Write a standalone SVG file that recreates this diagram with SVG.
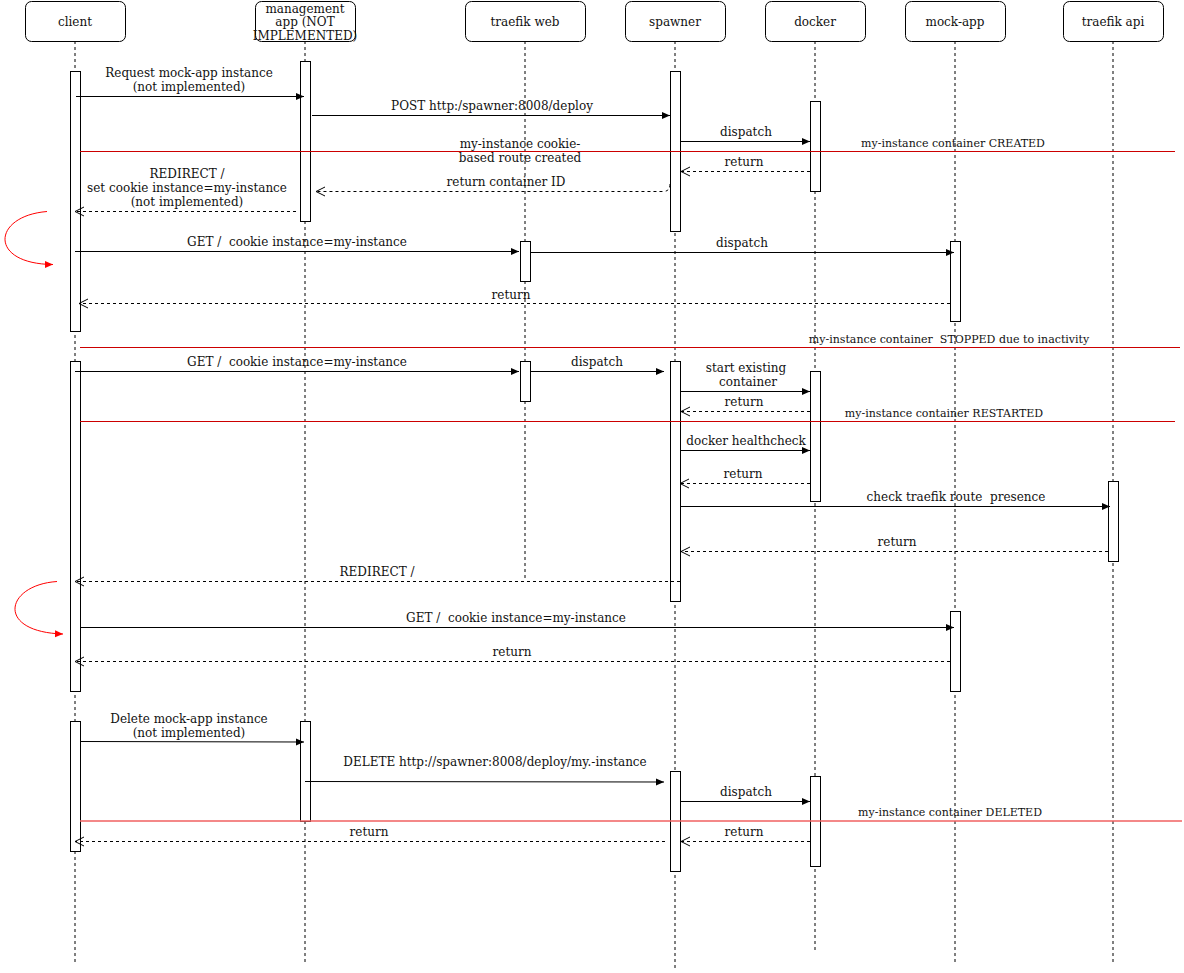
<svg xmlns="http://www.w3.org/2000/svg" width="1184" height="973" viewBox="0 0 1184 973">
<style>
text{font-family:"DejaVu Serif","Liberation Serif",serif;font-size:12px;fill:#111;text-anchor:middle;white-space:pre}
.sm{font-size:11px}
.hdr rect{fill:#fff;stroke:#000;stroke-width:1}
.life{stroke:#000;stroke-width:1;stroke-dasharray:3,3;fill:none}
.act{fill:#fff;stroke:#000;stroke-width:1}
.msg{stroke:#000;stroke-width:1;fill:none;marker-end:url(#block)}
.ret{stroke:#000;stroke-width:1;fill:none;stroke-dasharray:3,3;marker-end:url(#open)}
.red{stroke:#cc0000;stroke-width:1;fill:none}
.loop{stroke:#ff0000;stroke-width:1;fill:none;marker-end:url(#rblock)}
</style>
<defs>
<marker id="block" markerUnits="userSpaceOnUse" markerWidth="10" markerHeight="8" refX="8" refY="4" orient="auto"><path d="M0,0.5 L8,4 L0,7.5 z" fill="#000"/></marker>
<marker id="rblock" markerUnits="userSpaceOnUse" markerWidth="10" markerHeight="8" refX="8" refY="4" orient="auto"><path d="M0,0.5 L8,4 L0,7.5 z" fill="#ff0000"/></marker>
<marker id="open" markerUnits="userSpaceOnUse" markerWidth="12" markerHeight="12" refX="9" refY="5" orient="auto"><path d="M0,0.5 L9,5 L0,9.5" fill="none" stroke="#000" stroke-width="1"/></marker>
</defs>
<rect width="1184" height="973" fill="#fff"/>
<g id="lifelines">
<line class="life" x1="75" y1="41" x2="75" y2="962"/>
<line class="life" x1="305" y1="41" x2="305" y2="962"/>
<line class="life" x1="525" y1="41" x2="525" y2="580"/>
<line class="life" x1="675" y1="41" x2="675" y2="968"/>
<line class="life" x1="815" y1="41" x2="815" y2="950"/>
<line class="life" x1="955" y1="41" x2="955" y2="962"/>
<line class="life" x1="1113" y1="41" x2="1113" y2="962"/>
</g>
<g id="node-client" class="hdr"><rect x="25.5" y="1.5" width="100" height="40" rx="6"/><text x="75" y="26">client</text></g>
<g id="node-management" class="hdr"><rect x="255.5" y="1.5" width="100" height="40" rx="6"/><text x="305" y="13">management</text><text x="305" y="26">app (NOT</text><text x="305" y="40">IMPLEMENTED)</text></g>
<g id="node-traefik-web" class="hdr"><rect x="465.5" y="1.5" width="120" height="40" rx="6"/><text x="525" y="26">traefik web</text></g>
<g id="node-spawner" class="hdr"><rect x="625.5" y="1.5" width="100" height="40" rx="6"/><text x="675" y="26">spawner</text></g>
<g id="node-docker" class="hdr"><rect x="765.5" y="1.5" width="100" height="40" rx="6"/><text x="815" y="26">docker</text></g>
<g id="node-mock-app" class="hdr"><rect x="905.5" y="1.5" width="100" height="40" rx="6"/><text x="955" y="26">mock-app</text></g>
<g id="node-traefik-api" class="hdr"><rect x="1063.5" y="1.5" width="100" height="40" rx="6"/><text x="1113" y="26">traefik api</text></g>
<g id="activations">
<rect class="act" x="70.5" y="71.5" width="10" height="260"/>
<rect class="act" x="300.5" y="61.5" width="10" height="160"/>
<rect class="act" x="670.5" y="71.5" width="10" height="160"/>
<rect class="act" x="810.5" y="101.5" width="10" height="90"/>
<rect class="act" x="520.5" y="241.5" width="10" height="40"/>
<rect class="act" x="950.5" y="241.5" width="10" height="80"/>
<rect class="act" x="70.5" y="361.5" width="10" height="330"/>
<rect class="act" x="520.5" y="361.5" width="10" height="40"/>
<rect class="act" x="670.5" y="361.5" width="10" height="240"/>
<rect class="act" x="810.5" y="371.5" width="10" height="130"/>
<rect class="act" x="1108.5" y="481.5" width="10" height="80"/>
<rect class="act" x="950.5" y="611.5" width="10" height="80"/>
<rect class="act" x="70.5" y="721.5" width="10" height="130"/>
<rect class="act" x="300.5" y="721.5" width="10" height="100"/>
<rect class="act" x="670.5" y="771.5" width="10" height="100"/>
<rect class="act" x="810.5" y="776.5" width="10" height="90"/>
</g>
<g id="connectors">
<path class="msg" d="M76,96.5 L304,96.5"/>
<path class="msg" d="M312,115.5 L670,115.5"/>
<path class="msg" d="M681,141.5 L810,141.5"/>
<path class="red" d="M80,151.5 L1175,151.5"/>
<path class="ret" d="M810,171.5 L681,171.5"/>
<path class="ret" d="M670,184 Q670,191.5 663,191.5 L316,191.5"/>
<path class="ret" d="M296,211.5 L75,211.5"/>
<path class="loop" d="M47,211.5 C-8,216 -12,264 53,264.5"/>
<path class="msg" d="M75,251.5 L519,251.5"/>
<path class="msg" d="M531,252.5 L954,252.5"/>
<path class="ret" d="M950,303.5 L79,303.5"/>
<path class="red" d="M80,347.5 L1180,347.5"/>
<path class="msg" d="M75,371.5 L519,371.5"/>
<path class="msg" d="M531,371.5 L664,371.5"/>
<path class="msg" d="M681,391.5 L810,391.5"/>
<path class="ret" d="M810,411.5 L681,411.5"/>
<path class="red" d="M80,421.5 L1175,421.5"/>
<path class="msg" d="M681,450.5 L810,450.5"/>
<path class="ret" d="M810,483.5 L680,483.5"/>
<path class="msg" d="M681,506.5 L1110,506.5"/>
<path class="ret" d="M1108,551.5 L681,551.5"/>
<path class="ret" d="M680,581.5 L75,581.5"/>
<path class="loop" d="M57,581.5 C5,585 -5,632 63,634"/>
<path class="msg" d="M80,627.5 L954,627.5"/>
<path class="ret" d="M950,661.5 L75,661.5"/>
<path class="msg" d="M80,741.5 L304,742"/>
<path class="msg" d="M305,781.5 L664,782"/>
<path class="msg" d="M681,801.5 L810,801.5"/>
<path style="stroke:#f06060;stroke-width:1.5;fill:none" d="M80,821 L1182,821"/>
<path class="ret" d="M810,841.5 L681,841.5"/>
<path class="ret" d="M665,841.5 L75,841.5"/>
</g>
<g id="labels">
<text x="189" y="77">Request mock-app instance</text>
<text x="189" y="91">(not implemented)</text>
<text x="492" y="110">POST http:/spawner:8008/deploy</text>
<text x="746" y="136">dispatch</text>
<text class="sm" x="953" y="147">my-instance container CREATED</text>
<text x="520" y="148">my-instance cookie-</text>
<text x="520" y="162">based route created</text>
<text x="744" y="166">return</text>
<text x="506" y="186">return container ID</text>
<text x="187" y="178">REDIRECT /</text>
<text x="187" y="192">set cookie instance=my-instance</text>
<text x="187" y="206">(not implemented)</text>
<text x="297" y="246">GET /  cookie instance=my-instance</text>
<text x="742" y="247">dispatch</text>
<text x="511" y="299">return</text>
<text class="sm" x="949" y="343">my-instance container  STOPPED due to inactivity</text>
<text x="297" y="366">GET /  cookie instance=my-instance</text>
<text x="597" y="366">dispatch</text>
<text x="746" y="372">start existing</text>
<text x="748" y="386">container</text>
<text x="744" y="406">return</text>
<text class="sm" x="944" y="417">my-instance container RESTARTED</text>
<text x="746" y="445">docker healthcheck</text>
<text x="743" y="478">return</text>
<text x="956" y="501">check traefik route  presence</text>
<text x="897" y="546">return</text>
<text x="377" y="576">REDIRECT /</text>
<text x="516" y="622">GET /  cookie instance=my-instance</text>
<text x="512" y="656">return</text>
<text x="189" y="723">Delete mock-app instance</text>
<text x="189" y="737">(not implemented)</text>
<text x="495" y="766">DELETE http://spawner:8008/deploy/my.-instance</text>
<text x="746" y="796">dispatch</text>
<text class="sm" x="950" y="816">my-instance container DELETED</text>
<text x="744" y="836">return</text>
<text x="369" y="836">return</text>
</g>
</svg>
